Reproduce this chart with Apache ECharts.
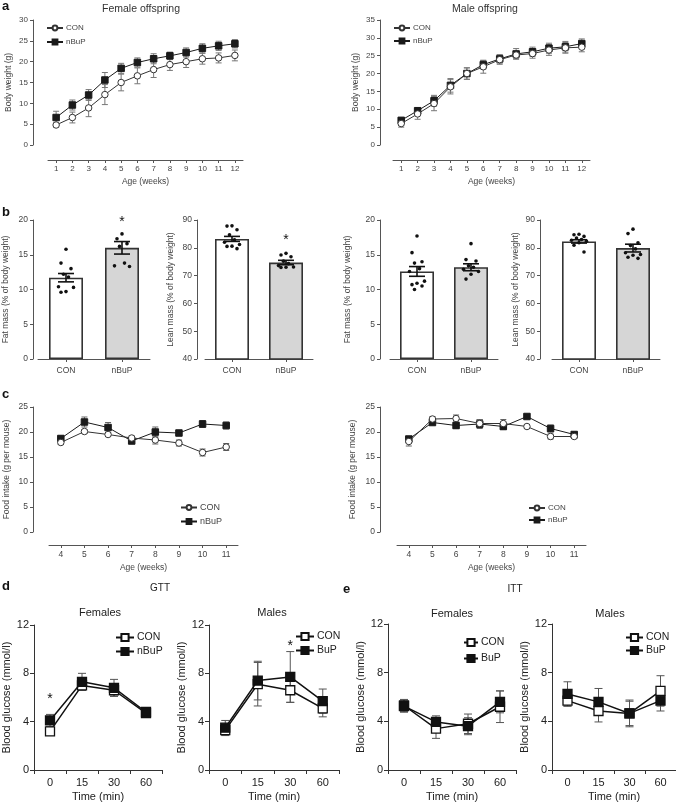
<!DOCTYPE html>
<html><head><meta charset="utf-8">
<script src="https://cdn.jsdelivr.net/npm/echarts@6/dist/echarts.min.js"></script>
<style>
html,body{margin:0;padding:0;background:#fff;}
#wrap{position:relative;width:676px;height:803px;overflow:hidden;}
.layer{position:absolute;left:0;top:0;width:676px;height:803px;}
</style></head><body>
<div id="wrap">
<div id="pa" class="layer"></div>
<div id="pb" class="layer"></div>
<div id="pc" class="layer"></div>
<div id="pde" class="layer"></div>
</div>
<script>
// ---------- Panel a: body weight ----------
const weeksA = ['1','2','3','4','5','6','7','8','9','10','11','12'];
const bwFemaleCON = [4.8, 6.6, 8.9, 12.1, 15.0, 16.6, 18.1, 19.3, 20.0, 20.7, 20.9, 21.5];
const bwFemaleCONErr = [0.5, 1.3, 2.1, 2.4, 2.0, 1.9, 1.9, 1.4, 1.4, 1.3, 1.2, 1.3];
const bwFemaleNBuP = [6.6, 9.6, 12.0, 15.6, 18.4, 19.8, 20.7, 21.4, 22.2, 23.2, 23.8, 24.3];
const bwFemaleNBuPErr = [1.5, 1.2, 1.3, 1.8, 1.2, 1.1, 1.2, 0.9, 1.1, 1.1, 1.1, 1.0];
const bwMaleCON = [6.0, 8.7, 11.6, 16.3, 20.0, 21.9, 23.9, 25.2, 25.6, 26.6, 27.2, 27.4];
const bwMaleCONErr = [1.0, 1.5, 2.0, 2.0, 1.6, 1.8, 1.3, 1.0, 1.3, 1.5, 1.5, 1.3];
const bwMaleNBuP = [6.9, 9.6, 12.4, 16.7, 20.0, 22.5, 24.1, 25.5, 26.1, 27.1, 27.5, 28.4];
const bwMaleNBuPErr = [0.8, 0.8, 1.5, 1.9, 1.6, 1.2, 1.2, 1.5, 1.3, 1.4, 1.5, 1.3];

// ---------- Panel b: body composition ----------
const groupsB = ['CON', 'nBuP'];
const fatFemaleMean = [11.7, 16.0];
const fatFemaleSEM = [0.6, 0.9];
const fatFemaleCONPts = [15.8, 13.8, 13.0, 12.2, 11.8, 10.4, 10.3, 9.6, 9.7];
const fatFemaleNBuPPts = [18.0, 17.3, 16.6, 16.2, 13.8, 13.4, 13.3];
const leanFemaleMean = [83.2, 74.7];
const leanFemaleSEM = [0.9, 0.8];
const leanFemaleCONPts = [87.9, 87.8, 86.5, 84.7, 82.9, 82.0, 81.2, 80.6, 80.5, 79.7];
const leanFemaleNBuPPts = [78.0, 77.4, 76.8, 75.2, 74.3, 73.6, 73.1, 73.0, 72.9];
const fatMaleMean = [12.6, 13.2];
const fatMaleSEM = [0.7, 0.5];
const fatMaleCONPts = [17.7, 15.3, 14.0, 13.8, 13.0, 12.6, 11.2, 10.9, 10.7, 10.5, 10.0];
const fatMaleNBuPPts = [16.6, 14.3, 14.1, 13.4, 13.2, 12.9, 12.6, 12.2, 11.5];
const leanMaleMean = [82.3, 79.9];
const leanMaleSEM = [0.6, 1.4];
const leanMaleCONPts = [84.9, 84.7, 84.1, 83.5, 83.0, 82.7, 82.4, 81.8, 80.9, 78.5];
const leanMaleNBuPPts = [86.7, 85.1, 81.8, 80.8, 79.6, 78.2, 77.6, 77.3, 76.6, 76.2];
const starFatFemale = [[1, 19.7]];
const starLeanFemale = [[1, 82.8]];

// ---------- Panel c: food intake ----------
const weeksC = ['4','5','6','7','8','9','10','11'];
const foodFemaleCON = [17.9, 20.1, 19.5, 18.8, 18.4, 17.8, 15.9, 17.0];
const foodFemaleCONErr = [0.4, 0.4, 0.3, 0.4, 0.8, 0.6, 0.7, 0.7];
const foodFemaleNBuP = [18.7, 22.0, 20.9, 18.2, 20.0, 19.8, 21.6, 21.3];
const foodFemaleNBuPErr = [0.5, 1.0, 1.0, 0.4, 1.0, 0.5, 0.7, 0.7];
const foodMaleCON = [18.1, 22.6, 22.7, 21.7, 21.7, 21.1, 19.1, 19.1];
const foodMaleCONErr = [0.9, 0.5, 0.7, 0.8, 0.8, 0.3, 0.5, 0.4];
const foodMaleNBuP = [18.6, 21.9, 21.3, 21.6, 21.1, 23.1, 20.7, 19.5];
const foodMaleNBuPErr = [0.4, 0.4, 0.6, 0.9, 0.6, 0.4, 0.7, 0.5];

// ---------- Panels d/e: GTT / ITT ----------
const timesDE = ['0','15','30','60'];
const gttFemaleCON = [3.2, 7.0, 6.6, 4.7];
const gttFemaleCONErr = [0.25, 0.4, 0.5, 0.3];
const gttFemaleNBuP = [4.1, 7.3, 6.8, 4.8];
const gttFemaleNBuPErr = [0.5, 0.7, 0.7, 0.35];
const gttMaleCON = [3.3, 7.1, 6.6, 5.1];
const gttMaleCONErr = [0.45, 1.8, 1.0, 0.7];
const gttMaleBuP = [3.5, 7.4, 7.7, 5.7];
const gttMaleBuPErr = [0.6, 1.6, 2.1, 1.0];
const ittFemaleCON = [5.3, 3.4, 3.8, 5.2];
const ittFemaleCONErr = [0.5, 0.8, 0.8, 1.3];
const ittFemaleBuP = [5.25, 3.95, 3.6, 5.6];
const ittFemaleBuPErr = [0.5, 0.5, 0.7, 0.9];
const ittMaleCON = [5.7, 4.85, 4.65, 6.5];
const ittMaleCONErr = [0.45, 0.9, 1.1, 1.25];
const ittMaleBuP = [6.25, 5.6, 4.65, 5.7];
const ittMaleBuPErr = [1.0, 1.1, 1.0, 0.85];
const starGttFemale = [[0, 5.9]];
const starGttMale = [[2, 10.25]];

// ================= helpers =================
const FONT = '"Liberation Sans", Arial, Helvetica, sans-serif';

function gridAt(left, top, width, height) {
  return {left: left, top: top, width: width, height: height, containLabel: false, outerBoundsMode: 'none'};
}
function catX(gi, data, o) {
  return {
    type: 'category', gridIndex: gi, data: data, offset: o.offset || 0, boundaryGap: true,
    axisLine: {show: true, onZero: false, lineStyle: {color: o.lc, width: 1}},
    axisTick: {show: true, alignWithLabel: !!o.align, length: o.tl || 3, lineStyle: {color: o.lc, width: 1}},
    axisLabel: {fontSize: o.fs, color: o.tc, margin: o.margin, interval: 0, fontFamily: FONT},
    name: o.name || '', nameLocation: 'middle', nameGap: o.nameGap || 15,
    nameTextStyle: {fontSize: o.nfs || o.fs, color: o.tc, fontFamily: FONT},
    splitLine: {show: false}
  };
}
function valY(gi, min, max, interval, o) {
  return {
    type: 'value', gridIndex: gi, min: min, max: max, interval: interval, offset: o.offset || 0,
    axisLine: {show: true, lineStyle: {color: o.lc, width: 1}},
    axisTick: {show: true, length: o.tl || 3, lineStyle: {color: o.lc, width: 1}},
    axisLabel: {fontSize: o.fs, color: o.tc, margin: o.margin, fontFamily: FONT},
    name: o.name, nameLocation: 'middle', nameGap: o.nameGap, nameRotate: 90,
    nameTextStyle: {fontSize: o.nfs || o.fs, color: o.tc, fontFamily: FONT},
    splitLine: {show: false}
  };
}
function errSeries(xi, means, errs, o) {
  return {
    type: 'custom', xAxisIndex: xi, yAxisIndex: xi, z: o.z || 2, silent: true,
    encode: {x: 0, y: 1},
    data: means.map(function (m, i) { return [i, m, errs[i]]; }),
    renderItem: function (params, api) {
      const i = api.value(0), m = api.value(1), e = api.value(2);
      const t = api.coord([i, m + e]), b = api.coord([i, m - e]);
      const c = o.cap;
      const st = {stroke: o.color, lineWidth: o.width};
      return {type: 'group', children: [
        {type: 'line', shape: {x1: t[0], y1: t[1], x2: b[0], y2: b[1]}, style: st},
        {type: 'line', shape: {x1: t[0] - c, y1: t[1], x2: t[0] + c, y2: t[1]}, style: st},
        {type: 'line', shape: {x1: b[0] - c, y1: b[1], x2: b[0] + c, y2: b[1]}, style: st}
      ]};
    }
  };
}
function dotSeries(xi, cat, vals) {
  const pat = [0, -5, 5, -2.5, 2.5, -7.5, 7.5, 0, -5, 5, -2.5, 2.5];
  const order = vals.map(function (v, i) { return i; }).sort(function (a, b) { return vals[b] - vals[a]; });
  return {
    type: 'custom', xAxisIndex: xi, yAxisIndex: xi, z: 6, silent: true, encode: {x: 0, y: 1},
    data: order.map(function (idx, k) { return [cat, vals[idx], pat[k % pat.length]]; }),
    renderItem: function (params, api) {
      const p = api.coord([api.value(0), api.value(1)]);
      return {type: 'circle', shape: {cx: p[0] + api.value(2), cy: p[1], r: 1.8}, style: {fill: '#111'}};
    }
  };
}
function starSeries(xi, pts, fs) {
  return {
    type: 'custom', xAxisIndex: xi, yAxisIndex: xi, z: 7, silent: true, encode: {x: 0, y: 1},
    data: pts,
    renderItem: function (params, api) {
      const p = api.coord([api.value(0), api.value(1)]);
      return {type: 'text', x: p[0], y: p[1],
        style: {text: '*', fontSize: fs, fontFamily: FONT, fill: '#111', align: 'center', verticalAlign: 'middle'}};
    }
  };
}
function lineSeries(xi, name, data, o) {
  return {
    type: 'line', name: name, xAxisIndex: xi, yAxisIndex: xi, data: data, z: o.z || 4,
    symbol: o.symbol, symbolSize: o.size, showSymbol: true, silent: true,
    itemStyle: {color: o.fill, borderColor: o.stroke, borderWidth: o.bw},
    lineStyle: {color: o.stroke, width: o.lw},
    emphasis: {disabled: true}
  };
}
function titleAt(text, left, top, fs, o) {
  o = o || {};
  return {text: text, left: left, top: top, padding: 0, textAlign: o.align || 'left',
    textStyle: {fontSize: fs, fontWeight: o.bold ? 'bold' : 'normal', color: o.color || '#333', fontFamily: FONT}};
}
function legendAt(left, top, names, o) {
  return {left: left, top: top, orient: 'vertical', padding: 0, itemWidth: o.iw, itemHeight: o.ih,
    itemGap: o.gap, data: names, selectedMode: false,
    textStyle: {fontSize: o.fs, color: o.tc, fontFamily: FONT, padding: [0, 0, 0, -2]}};
}

// ================= Panel a =================
(function () {
  const A = {lc: '#555', tc: '#444', fs: 8, margin: 5};
  const conS = {symbol: 'circle', size: 6.5, fill: '#fff', stroke: '#333', bw: 1, lw: 1, z: 5};
  const nbS = {symbol: 'rect', size: 6.5, fill: '#1a1a1a', stroke: '#1a1a1a', bw: 1, lw: 1, z: 4};
  const errA = {cap: 3, color: '#777', width: 1};
  const opt = {
    animation: false,
    title: [
      titleAt('a', 2, 0, 13, {bold: true, color: '#111'}),
      titleAt('Female offspring', 141, 4, 10.5, {align: 'center'}),
      titleAt('Male offspring', 485, 4, 10.5, {align: 'center'})
    ],
    legend: [
      legendAt(46, 24, ['CON', 'nBuP'], {iw: 16, ih: 6, gap: 6, fs: 8, tc: '#444'}),
      legendAt(393, 24, ['CON', 'nBuP'], {iw: 16, ih: 6, gap: 5, fs: 8, tc: '#444'})
    ],
    grid: [gridAt(48, 20, 195, 125), gridAt(393, 20, 197, 125)],
    xAxis: [
      catX(0, weeksA, Object.assign({}, A, {offset: 15, align: true, name: 'Age (weeks)', nameGap: 17, nfs: 8.5})),
      catX(1, weeksA, Object.assign({}, A, {offset: 15, align: true, name: 'Age (weeks)', nameGap: 17, nfs: 8.5}))
    ],
    yAxis: [
      valY(0, 0, 30, 5, Object.assign({}, A, {offset: 15, name: 'Body weight (g)', nameGap: 20, nfs: 8.5})),
      valY(1, 0, 35, 5, Object.assign({}, A, {offset: 13, name: 'Body weight (g)', nameGap: 20, nfs: 8.5}))
    ],
    series: [
      errSeries(0, bwFemaleCON, bwFemaleCONErr, errA),
      errSeries(0, bwFemaleNBuP, bwFemaleNBuPErr, errA),
      lineSeries(0, 'CON', bwFemaleCON, conS),
      lineSeries(0, 'nBuP', bwFemaleNBuP, nbS),
      errSeries(1, bwMaleCON, bwMaleCONErr, errA),
      errSeries(1, bwMaleNBuP, bwMaleNBuPErr, errA),
      lineSeries(1, 'CON', bwMaleCON, conS),
      lineSeries(1, 'nBuP', bwMaleNBuP, nbS)
    ]
  };
  echarts.init(document.getElementById('pa'), null, {renderer: 'canvas'}).setOption(opt);
})();

// ================= Panel b =================
(function () {
  const B = {lc: '#555', tc: '#444', fs: 8.5, margin: 5};
  const errB = {cap: 8, color: '#111', width: 1.6, z: 5};
  function bars(xi, means) {
    return {
      type: 'bar', xAxisIndex: xi, yAxisIndex: xi, barWidth: 34, z: 3, silent: true, clip: true,
      data: means.map(function (m, i) {
        return {value: m, itemStyle: {color: i === 0 ? '#ffffff' : '#d6d6d6', borderColor: '#333', borderWidth: 1.6}};
      })
    };
  }
  const xOpt = Object.assign({}, B, {align: true, margin: 7});
  const opt = {
    animation: false,
    title: [titleAt('b', 2, 206, 13, {bold: true, color: '#111'})],
    grid: [gridAt(38, 220, 112, 139), gridAt(205, 220, 108, 139), gridAt(390, 220, 108, 139), gridAt(552, 220, 108, 139)],
    xAxis: [catX(0, groupsB, xOpt), catX(1, groupsB, xOpt), catX(2, groupsB, xOpt), catX(3, groupsB, xOpt)],
    yAxis: [
      valY(0, 0, 20, 5, Object.assign({}, B, {offset: 5, name: 'Fat mass (% of body weight)', nameGap: 23})),
      valY(1, 40, 90, 10, Object.assign({}, B, {offset: 8, name: 'Lean mass (% of body weight)', nameGap: 22})),
      valY(2, 0, 20, 5, Object.assign({}, B, {offset: 10, name: 'Fat mass (% of body weight)', nameGap: 28})),
      valY(3, 40, 90, 10, Object.assign({}, B, {offset: 12, name: 'Lean mass (% of body weight)', nameGap: 20}))
    ],
    series: [
      bars(0, fatFemaleMean), errSeries(0, fatFemaleMean, fatFemaleSEM, errB),
      dotSeries(0, 0, fatFemaleCONPts), dotSeries(0, 1, fatFemaleNBuPPts), starSeries(0, starFatFemale, 14),
      bars(1, leanFemaleMean), errSeries(1, leanFemaleMean, leanFemaleSEM, errB),
      dotSeries(1, 0, leanFemaleCONPts), dotSeries(1, 1, leanFemaleNBuPPts), starSeries(1, starLeanFemale, 14),
      bars(2, fatMaleMean), errSeries(2, fatMaleMean, fatMaleSEM, errB),
      dotSeries(2, 0, fatMaleCONPts), dotSeries(2, 1, fatMaleNBuPPts),
      bars(3, leanMaleMean), errSeries(3, leanMaleMean, leanMaleSEM, errB),
      dotSeries(3, 0, leanMaleCONPts), dotSeries(3, 1, leanMaleNBuPPts)
    ]
  };
  echarts.init(document.getElementById('pb'), null, {renderer: 'canvas'}).setOption(opt);
})();

// ================= Panel c =================
(function () {
  const C = {lc: '#555', tc: '#444', fs: 8.5, margin: 5};
  const conS = {symbol: 'circle', size: 6.5, fill: '#fff', stroke: '#333', bw: 1, lw: 1, z: 5};
  const nbS = {symbol: 'rect', size: 6.5, fill: '#1a1a1a', stroke: '#1a1a1a', bw: 1, lw: 1, z: 4};
  const errC = {cap: 3, color: '#666', width: 1};
  const xo = Object.assign({}, C, {offset: 13, align: true, name: 'Age (weeks)', nameGap: 18});
  const opt = {
    animation: false,
    title: [titleAt('c', 2, 388, 13, {bold: true, color: '#111'})],
    legend: [
      legendAt(180, 503, ['CON', 'nBuP'], {iw: 16, ih: 6, gap: 5, fs: 9, tc: '#444'}),
      legendAt(528, 504, ['CON', 'nBuP'], {iw: 16, ih: 6, gap: 4, fs: 8, tc: '#444'})
    ],
    grid: [gridAt(49, 407, 189, 125), gridAt(397, 407, 189, 125)],
    xAxis: [catX(0, weeksC, xo), catX(1, weeksC, xo)],
    yAxis: [
      valY(0, 0, 25, 5, Object.assign({}, C, {offset: 16, name: 'Food intake (g per mouse)', nameGap: 22})),
      valY(1, 0, 25, 5, Object.assign({}, C, {offset: 17, name: 'Food intake (g per mouse)', nameGap: 23}))
    ],
    series: [
      errSeries(0, foodFemaleCON, foodFemaleCONErr, errC),
      errSeries(0, foodFemaleNBuP, foodFemaleNBuPErr, errC),
      lineSeries(0, 'CON', foodFemaleCON, conS),
      lineSeries(0, 'nBuP', foodFemaleNBuP, nbS),
      errSeries(1, foodMaleCON, foodMaleCONErr, errC),
      errSeries(1, foodMaleNBuP, foodMaleNBuPErr, errC),
      lineSeries(1, 'CON', foodMaleCON, conS),
      lineSeries(1, 'nBuP', foodMaleNBuP, nbS)
    ]
  };
  echarts.init(document.getElementById('pc'), null, {renderer: 'canvas'}).setOption(opt);
})();

// ================= Panels d & e =================
(function () {
  const D = {lc: '#333', tc: '#222', fs: 11, margin: 5, tl: 4};
  const conS = {symbol: 'rect', size: 9, fill: '#fff', stroke: '#111', bw: 1.3, lw: 1.5, z: 4};
  const nbS = {symbol: 'rect', size: 9, fill: '#111', stroke: '#111', bw: 1.3, lw: 1.5, z: 5};
  const errD = {cap: 4, color: '#555', width: 1};
  const xo = Object.assign({}, D, {margin: 7, name: 'Time (min)', nameGap: 21});
  const lg = {iw: 18, ih: 9, gap: 3, fs: 10.5, tc: '#222'};
  const opt = {
    animation: false,
    title: [
      titleAt('d', 2, 580, 13, {bold: true, color: '#111'}),
      titleAt('GTT', 160, 583, 10, {align: 'center', color: '#222'}),
      titleAt('Females', 100, 607, 11, {align: 'center', color: '#222'}),
      titleAt('Males', 272, 607, 11, {align: 'center', color: '#222'}),
      titleAt('e', 343, 583, 13, {bold: true, color: '#111'}),
      titleAt('ITT', 515, 584, 10, {align: 'center', color: '#222'}),
      titleAt('Females', 452, 608, 11, {align: 'center', color: '#222'}),
      titleAt('Males', 610, 608, 11, {align: 'center', color: '#222'})
    ],
    legend: [
      legendAt(115, 632, ['CON', 'nBuP'], lg),
      legendAt(295, 631, ['CON', 'BuP'], lg),
      legendAt(463, 637, ['CON', 'BuP'], Object.assign({}, lg, {iw: 14, gap: 5})),
      legendAt(625, 632, ['CON', 'BuP'], Object.assign({}, lg, {iw: 17, gap: 2}))
    ],
    grid: [gridAt(34, 625, 128, 145), gridAt(209, 625, 130, 145), gridAt(388, 624, 128, 146), gridAt(552, 624, 124, 146)],
    xAxis: [catX(0, timesDE, xo), catX(1, timesDE, xo), catX(2, timesDE, xo), catX(3, timesDE, xo)],
    yAxis: [
      valY(0, 0, 12, 4, Object.assign({}, D, {name: 'Blood glucose (mmol/l)', nameGap: 22})),
      valY(1, 0, 12, 4, Object.assign({}, D, {name: 'Blood glucose (mmol/l)', nameGap: 21})),
      valY(2, 0, 12, 4, Object.assign({}, D, {name: 'Blood glucose (mmol/l)', nameGap: 20})),
      valY(3, 0, 12, 4, Object.assign({}, D, {name: 'Blood glucose (mmol/l)', nameGap: 21}))
    ],
    series: [
      errSeries(0, gttFemaleCON, gttFemaleCONErr, errD),
      errSeries(0, gttFemaleNBuP, gttFemaleNBuPErr, errD),
      lineSeries(0, 'CON', gttFemaleCON, conS),
      lineSeries(0, 'nBuP', gttFemaleNBuP, nbS),
      starSeries(0, starGttFemale, 14),
      errSeries(1, gttMaleCON, gttMaleCONErr, errD),
      errSeries(1, gttMaleBuP, gttMaleBuPErr, errD),
      lineSeries(1, 'CON', gttMaleCON, conS),
      lineSeries(1, 'BuP', gttMaleBuP, nbS),
      starSeries(1, starGttMale, 14),
      errSeries(2, ittFemaleCON, ittFemaleCONErr, errD),
      errSeries(2, ittFemaleBuP, ittFemaleBuPErr, errD),
      lineSeries(2, 'CON', ittFemaleCON, conS),
      lineSeries(2, 'BuP', ittFemaleBuP, nbS),
      errSeries(3, ittMaleCON, ittMaleCONErr, errD),
      errSeries(3, ittMaleBuP, ittMaleBuPErr, errD),
      lineSeries(3, 'CON', ittMaleCON, conS),
      lineSeries(3, 'BuP', ittMaleBuP, nbS)
    ]
  };
  echarts.init(document.getElementById('pde'), null, {renderer: 'canvas'}).setOption(opt);
})();
</script>
</body></html>
